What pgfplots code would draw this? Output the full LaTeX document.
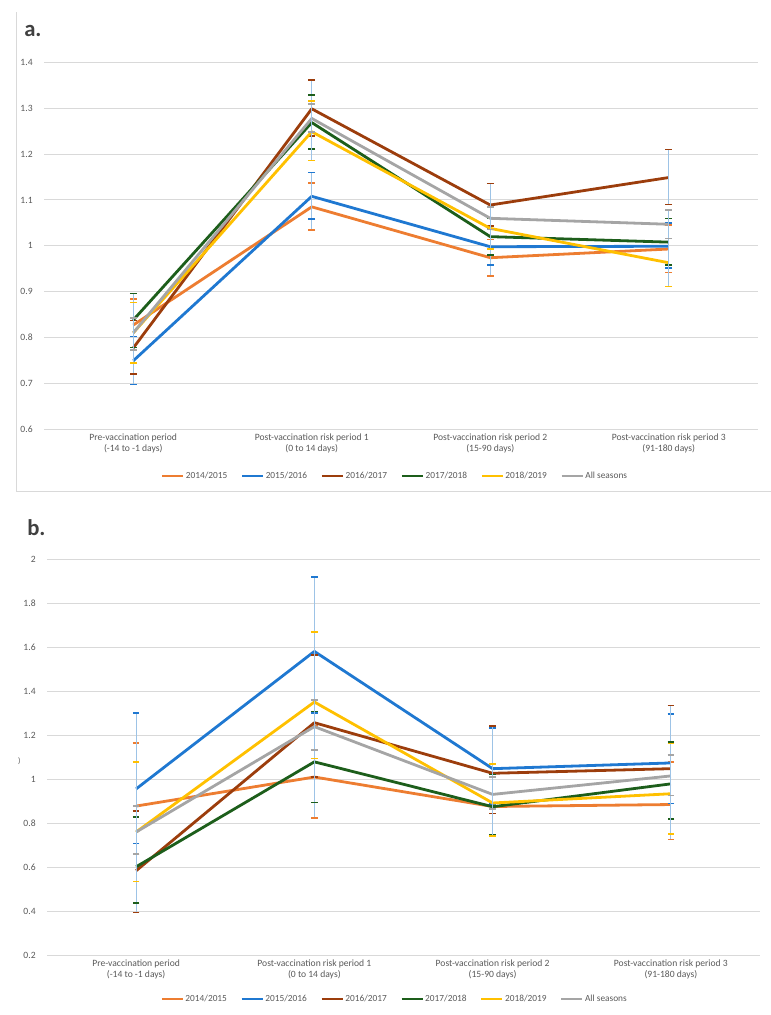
\documentclass[border=0pt]{standalone}
\usepackage{fontspec}
\setmainfont{Carlito}
\usepackage{pgfplots}
\usepackage{pgfplotstable}
\pgfplotsset{compat=1.18}
\definecolor{c1}{HTML}{ED7D31}
\definecolor{c2}{HTML}{1F78D1}
\definecolor{c3}{HTML}{9C3D0C}
\definecolor{c4}{HTML}{1D5E1B}
\definecolor{c5}{HTML}{FFC000}
\definecolor{c6}{HTML}{A5A5A5}
\definecolor{errblue}{HTML}{9DC3E6}
\definecolor{gridgray}{HTML}{D9D9D9}
\definecolor{txtgray}{HTML}{595959}
\definecolor{lblgray}{HTML}{404040}

\pgfplotstableread{
x oy olo ohi by blo bhi ry rlo rhi gy glo ghi yy ylo yhi ay alo ahi
0 0.827 0.772 0.884 0.749 0.697 0.802 0.777 0.720 0.837 0.838 0.778 0.896 0.810 0.744 0.876 0.810 0.772 0.842
1 1.085 1.035 1.137 1.108 1.058 1.160 1.299 1.240 1.362 1.269 1.211 1.329 1.249 1.186 1.316 1.278 1.248 1.310
2 0.974 0.934 1.014 0.998 0.958 1.038 1.089 1.043 1.136 1.020 0.980 1.061 1.038 0.993 1.085 1.060 1.036 1.085
3 0.993 0.942 1.045 0.999 0.951 1.050 1.149 1.090 1.210 1.008 0.958 1.060 0.963 0.911 1.016 1.047 1.016 1.078
}\tabA
\pgfplotstableread{
x oy olo ohi by blo bhi ry rlo rhi gy glo ghi yy ylo yhi ay alo ahi
0 0.877 0.660 1.165 0.955 0.706 1.300 0.583 0.394 0.855 0.601 0.436 0.828 0.759 0.534 1.077 0.759 0.659 0.877
1 1.009 0.822 1.241 1.580 1.300 1.917 1.256 1.008 1.565 1.078 0.894 1.306 1.350 1.094 1.667 1.238 1.131 1.358
2 0.875 0.745 1.025 1.047 0.886 1.232 1.026 0.844 1.242 0.874 0.746 1.021 0.891 0.741 1.068 0.930 0.865 1.008
3 0.884 0.725 1.077 1.073 0.889 1.295 1.047 0.818 1.335 0.978 0.818 1.167 0.933 0.749 1.161 1.014 0.925 1.108
}\tabB

\pgfplotsset{
  ser/.style={draw=#1, line width=2.1pt, line join=round, mark=none,
    /pgfplots/error bars/y dir=both,
    /pgfplots/error bars/y explicit,
    /pgfplots/error bars/error bar style={draw=errblue, line width=0.6pt},
    /pgfplots/error bars/error mark options={draw=#1, line width=1.2pt, mark size=2.5pt, rotate=90}},
  panel/.style={
    scale only axis,
    xmin=-0.5, xmax=3.5,
    axis line style={draw=none},
    tick style={draw=none},
    ymajorgrids,
    grid style={color=gridgray, line width=0.75pt},
    xtick={0,1,2,3},
    xticklabels={{Pre-vaccination period\\(-14 to -1 days)},{Post-vaccination risk period 1\\(0 to 14 days)},{Post-vaccination risk period 2\\(15-90 days)},{Post-vaccination risk period 3\\(91-180 days)}},
    xticklabel style={align=center, font=\fontsize{7.2}{8.3}\selectfont, text=txtgray},
    yticklabel style={font=\fontsize{7.2}{8.3}\selectfont, text=txtgray, xshift=-5pt},
    /pgf/number format/assume math mode=true,
    legend columns=6,
    legend style={draw=none, fill=none, font=\fontsize{7}{8}\selectfont, text=txtgray,
      /tikz/every even column/.append style={column sep=9pt},
      nodes={inner sep=1pt}},
    legend image code/.code={\draw[#1, line width=2.1pt] (0pt,0pt) -- (15.75pt,0pt);},
    clip=false,
  },
}

\begin{document}
\begin{tikzpicture}
\path[use as bounding box] (0,0) rectangle (578.25pt,-761.25pt);
\draw[gridgray, line width=0.75pt] (12pt,-9pt) -- (12pt,-368.25pt) -- (578.25pt,-368.25pt);
\node[anchor=base west, inner sep=0pt, text=lblgray, font=\fontsize{17}{20}\selectfont\bfseries] at (18pt,-27pt) {a.};
\node[anchor=base west, inner sep=0pt, text=lblgray, font=\fontsize{17}{20}\selectfont\bfseries] at (20.25pt,-401.25pt) {b.};
\node[inner sep=0pt, text=txtgray, font=\fontsize{6}{7}\selectfont] at (14.5pt,-570.75pt) {)};

\begin{axis}[panel, at={(33pt,-46.9pt)}, anchor=north west,
  width=535.5pt, height=274.9pt,
  ymin=0.6, ymax=1.4,
  ytick={0.6,0.7,0.8,0.9,1.0,1.1,1.2,1.3,1.4},
  yticklabels={0.6,0.7,0.8,0.9,1,1.1,1.2,1.3,1.4},
  legend style={at={(0.491,-0.128)}, anchor=center}]
\addplot[ser=c1] table[x=x, y=oy, y error plus expr=\thisrow{ohi}-\thisrow{oy}, y error minus expr=\thisrow{oy}-\thisrow{olo}] {\tabA};
\addplot[ser=c2] table[x=x, y=by, y error plus expr=\thisrow{bhi}-\thisrow{by}, y error minus expr=\thisrow{by}-\thisrow{blo}] {\tabA};
\addplot[ser=c3] table[x=x, y=ry, y error plus expr=\thisrow{rhi}-\thisrow{ry}, y error minus expr=\thisrow{ry}-\thisrow{rlo}] {\tabA};
\addplot[ser=c4] table[x=x, y=gy, y error plus expr=\thisrow{ghi}-\thisrow{gy}, y error minus expr=\thisrow{gy}-\thisrow{glo}] {\tabA};
\addplot[ser=c5] table[x=x, y=yy, y error plus expr=\thisrow{yhi}-\thisrow{yy}, y error minus expr=\thisrow{yy}-\thisrow{ylo}] {\tabA};
\addplot[ser=c6] table[x=x, y=ay, y error plus expr=\thisrow{ahi}-\thisrow{ay}, y error minus expr=\thisrow{ay}-\thisrow{alo}] {\tabA};
\legend{2014/2015,2015/2016,2016/2017,2017/2018,2018/2019,All seasons}
\end{axis}

\begin{axis}[panel, at={(35.25pt,-419.25pt)}, anchor=north west,
  width=534.75pt, height=297pt,
  ymin=0.2, ymax=2,
  ytick={0.2,0.4,0.6,0.8,1.0,1.2,1.4,1.6,1.8,2.0},
  yticklabels={0.2,0.4,0.6,0.8,1,1.2,1.4,1.6,1.8,2},
  legend style={at={(0.487,-0.111)}, anchor=center}]
\addplot[ser=c1] table[x=x, y=oy, y error plus expr=\thisrow{ohi}-\thisrow{oy}, y error minus expr=\thisrow{oy}-\thisrow{olo}] {\tabB};
\addplot[ser=c2] table[x=x, y=by, y error plus expr=\thisrow{bhi}-\thisrow{by}, y error minus expr=\thisrow{by}-\thisrow{blo}] {\tabB};
\addplot[ser=c3] table[x=x, y=ry, y error plus expr=\thisrow{rhi}-\thisrow{ry}, y error minus expr=\thisrow{ry}-\thisrow{rlo}] {\tabB};
\addplot[ser=c4] table[x=x, y=gy, y error plus expr=\thisrow{ghi}-\thisrow{gy}, y error minus expr=\thisrow{gy}-\thisrow{glo}] {\tabB};
\addplot[ser=c5] table[x=x, y=yy, y error plus expr=\thisrow{yhi}-\thisrow{yy}, y error minus expr=\thisrow{yy}-\thisrow{ylo}] {\tabB};
\addplot[ser=c6] table[x=x, y=ay, y error plus expr=\thisrow{ahi}-\thisrow{ay}, y error minus expr=\thisrow{ay}-\thisrow{alo}] {\tabB};
\legend{2014/2015,2015/2016,2016/2017,2017/2018,2018/2019,All seasons}
\end{axis}
\end{tikzpicture}
\end{document}
